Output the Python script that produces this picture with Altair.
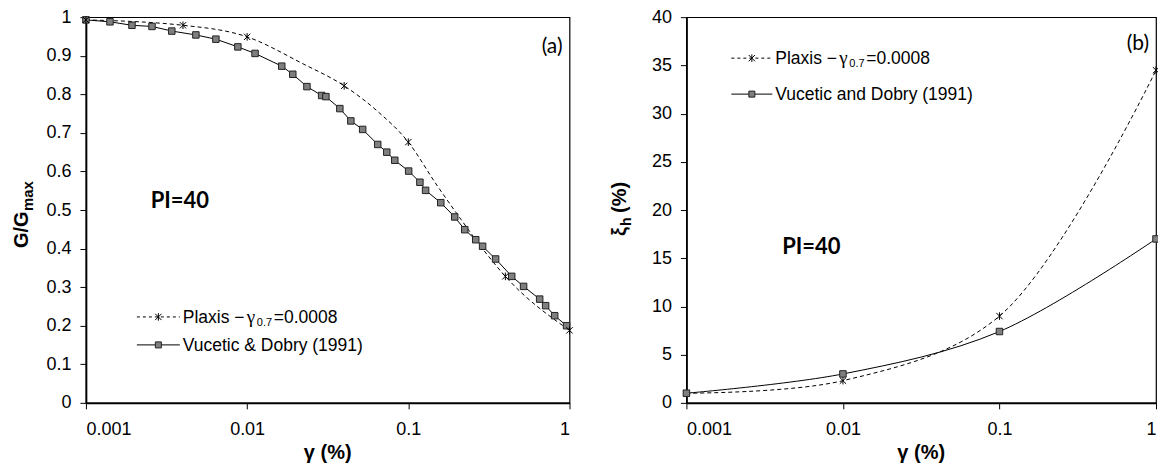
import altair as alt
import pandas as pd

# ---- Panel (a): normalised shear modulus G/Gmax versus shear strain ----
vd_gamma_a = [0.001, 0.00141, 0.00193, 0.00257, 0.00341, 0.00481, 0.0064, 0.00876,
              0.0112, 0.0164, 0.0192, 0.0235, 0.029, 0.0308, 0.0376, 0.044, 0.0521,
              0.0646, 0.0735, 0.0824, 0.1005, 0.118, 0.128, 0.159, 0.194, 0.224,
              0.262, 0.289, 0.348, 0.438, 0.519, 0.653, 0.711, 0.809, 0.959]
vd_ratio_a = [0.993, 0.988, 0.979, 0.976, 0.964, 0.954, 0.943, 0.923,
              0.906, 0.873, 0.852, 0.820, 0.797, 0.794, 0.763, 0.731, 0.709,
              0.670, 0.650, 0.629, 0.601, 0.572, 0.551, 0.519, 0.482, 0.449,
              0.423, 0.406, 0.373, 0.328, 0.302, 0.269, 0.252, 0.226, 0.200]

px_gamma_a = [0.001, 0.004, 0.01, 0.04, 0.1, 0.4, 1.0]
px_ratio_a = [0.993, 0.979, 0.949, 0.822, 0.676, 0.328, 0.188]

# points along the dashed Plaxis curve
px_curve_gamma_a = [0.001, 0.004, 0.01, 0.022, 0.04, 0.064, 0.1, 0.15, 0.217, 0.262, 0.4, 1.0]
px_curve_ratio_a = [0.993, 0.979, 0.949, 0.880, 0.822, 0.757, 0.676, 0.565, 0.470, 0.423, 0.328, 0.188]

# ---- Panel (b): damping ratio versus shear strain ----
gamma_b = [0.001, 0.01, 0.1, 1.0]
px_damp_b = [1.0, 2.3, 9.0, 34.5]
vd_damp_b = [1.0, 3.0, 7.4, 17.0]

x_ticks = [0.001, 0.01, 0.1, 1.0]
y_ticks_a = [0, 0.1, 0.2, 0.3, 0.4, 0.5, 0.6, 0.7, 0.8, 0.9, 1]
y_ticks_b = [0, 5, 10, 15, 20, 25, 30, 35, 40]

W_A, W_B, H = 484, 470, 386
SANS = "Liberation Sans"
HUMAN = "Lato"
STAR = "M-1,-1L1,1M-1,1L1,-1M0,-1.2L0,1.2"
SQ_FILL = "#7f7f7f"
LEG_SIZE = 17.5


def x_enc(field):
    return alt.X(f"{field}:Q", scale=alt.Scale(type="log", domain=[0.001, 1], nice=False),
                 axis=alt.Axis(values=x_ticks, format="~g", title=None, labelPadding=12))


def y_enc(field, dom, ticks):
    return alt.Y(f"{field}:Q", scale=alt.Scale(domain=dom, nice=False, zero=False),
                 axis=alt.Axis(values=ticks, format="~g", title=None))


def text(label, x, y, size, weight="normal", font=SANS, align="left", angle=0):
    return alt.Chart(pd.DataFrame({"label": [label]})).mark_text(
        font=font, fontSize=size, fontWeight=weight, align=align,
        baseline="alphabetic", angle=angle, color="black"
    ).encode(x=alt.value(x), y=alt.value(y), text="label:N")


def legend(x0, x1, y, dashed, marker):
    df = pd.DataFrame({"k": [0]})
    rule_kw = dict(color="black", strokeWidth=1)
    if dashed:
        rule_kw["strokeDash"] = [3, 3]
    rule = alt.Chart(df).mark_rule(**rule_kw).encode(
        x=alt.value(x0), x2=alt.value(x1), y=alt.value(y))
    xm = (x0 + x1) / 2
    if marker == "star":
        pt = alt.Chart(df).mark_point(shape=STAR, size=40, filled=False, stroke="black",
                                      strokeWidth=1, opacity=1).encode(
            x=alt.value(xm), y=alt.value(y))
    else:
        pt = alt.Chart(df).mark_point(shape="square", size=36, filled=True, fill=SQ_FILL,
                                      stroke="#222", strokeWidth=1, opacity=1).encode(
            x=alt.value(xm), y=alt.value(y))
    return [rule, pt]


def plaxis_label(t, base):
    return [
        text("Plaxis \u2212", t, base, LEG_SIZE),
        text("\u03b3", t + 64, base, 19, font="Liberation Serif"),
        text("0.7", t + 74, base + 3, 11),
        text("=0.0008", t + 91, base, LEG_SIZE),
    ]


# ---------------- panel (a) ----------------
df_vd_a = pd.DataFrame({"gamma": vd_gamma_a, "ratio": vd_ratio_a})
df_px_a = pd.DataFrame({"gamma": px_gamma_a, "ratio": px_ratio_a})
df_pxc_a = pd.DataFrame({"gamma": px_curve_gamma_a, "ratio": px_curve_ratio_a})

yA = y_enc("ratio", [0, 1], y_ticks_a)
a_layers = [
    alt.Chart(df_pxc_a).mark_line(color="black", strokeWidth=1, strokeDash=[4, 3],
                                  interpolate="monotone").encode(x=x_enc("gamma"), y=yA),
    alt.Chart(df_vd_a).mark_line(color="black", strokeWidth=1).encode(x=x_enc("gamma"), y=yA),
    alt.Chart(df_vd_a).mark_point(shape="square", size=42, filled=True, fill=SQ_FILL,
                                  stroke="#222", strokeWidth=1, opacity=1).encode(
        x=x_enc("gamma"), y=yA),
    alt.Chart(df_px_a).mark_point(shape=STAR, size=40, filled=False, stroke="black",
                                  strokeWidth=1, opacity=1).encode(x=x_enc("gamma"), y=yA),
    text("PI=40", 94, 191, 22, weight="bold", font=HUMAN, align="center"),
    text("(a)", 477, 36, 21, font=HUMAN, align="right"),
    text("G/G", -58, 231, 20, weight="bold", angle=270),
    text("max", -53, 194, 15, weight="bold", angle=270),
    text("\u03b3 (%)", W_A / 2, 442, 20, weight="bold", align="center"),
]
a_layers += legend(51, 94, 300, True, "star") + plaxis_label(97, 306)
a_layers += legend(51, 94, 328, False, "square") + [text("Vucetic & Dobry (1991)", 97, 334, LEG_SIZE)]
panel_a = alt.layer(*a_layers).properties(width=W_A, height=H)

# ---------------- panel (b) ----------------
df_b = pd.DataFrame({"gamma": gamma_b, "plaxis": px_damp_b, "vd": vd_damp_b})
yP = y_enc("plaxis", [0, 40], y_ticks_b)
yV = y_enc("vd", [0, 40], y_ticks_b)
b_layers = [
    alt.Chart(df_b).mark_line(color="black", strokeWidth=1, strokeDash=[4, 3],
                              interpolate="catmull-rom").encode(x=x_enc("gamma"), y=yP),
    alt.Chart(df_b).mark_line(color="black", strokeWidth=1,
                              interpolate="catmull-rom").encode(x=x_enc("gamma"), y=yV),
    alt.Chart(df_b).mark_point(shape=STAR, size=40, filled=False, stroke="black",
                               strokeWidth=1, opacity=1).encode(x=x_enc("gamma"), y=yP),
    alt.Chart(df_b).mark_point(shape="square", size=42, filled=True, fill=SQ_FILL,
                               stroke="#222", strokeWidth=1, opacity=1).encode(
        x=x_enc("gamma"), y=yV),
    text("PI=40", 125, 237, 22, weight="bold", font=HUMAN, align="center"),
    text("(b)", 463, 33, 21, font=HUMAN, align="right"),
    text("\u03be", -60, 219, 20, weight="bold", angle=270),
    text("h", -55, 209, 14, weight="bold", angle=270),
    text("(%)", -60, 196, 20, weight="bold", angle=270),
    text("\u03b3 (%)", W_B / 2, 442, 20, weight="bold", align="center"),
]
b_layers += legend(45, 86, 41, True, "star") + plaxis_label(89, 47)
b_layers += legend(45, 86, 77, False, "square") + [text("Vucetic and Dobry (1991)", 89, 83, LEG_SIZE)]
panel_b = alt.layer(*b_layers).properties(width=W_B, height=H)

chart = alt.hconcat(panel_a, panel_b, spacing=117, bounds="flush").properties(
    padding={"left": 11, "top": 7, "right": -4, "bottom": 0}
).configure_view(
    stroke="black", strokeWidth=1.2
).configure_axis(
    grid=False, labelFont=SANS, labelFontSize=18, labelColor="#000",
    domainColor="#000", domainWidth=1.8, tickColor="#000", tickWidth=1,
    tickSize=6, labelPadding=9
)

chart.save("out.html", embed_options={"renderer": "svg", "actions": False})
